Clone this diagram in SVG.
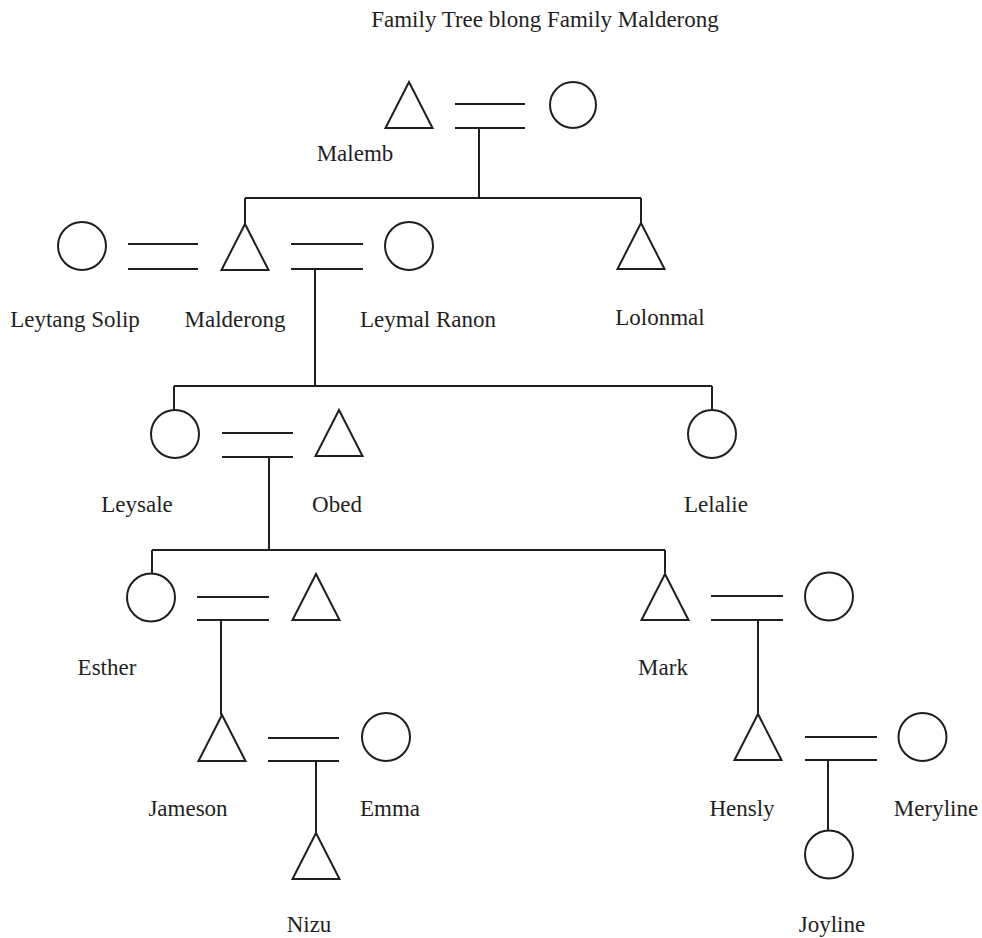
<svg xmlns="http://www.w3.org/2000/svg" xmlns:xlink="http://www.w3.org/1999/xlink" width="982" height="938" viewBox="0 0 982 938">
<style>
.s{fill:none;stroke:#1f1f1f;stroke-width:2}
.c line,.c path{fill:none;stroke:#1f1f1f;stroke-width:2}
text{font-family:"Liberation Serif","Times New Roman",serif;font-size:23px;fill:#1f1f1f;text-anchor:middle}
</style>
<defs>
<polygon id="tri" class="s" points="0,0 -23.5,46 23.5,46" stroke-linejoin="miter"/>
</defs>
<rect width="982" height="938" fill="#ffffff"/>
<text x="545" y="27">Family Tree blong Family Malderong</text>

<g id="connectors" class="c">
<path d="M455 104H525M455 128H525M479 128V198M245 198H641M245 198V224M641 198V223"/>
<path d="M128 244H198M128 269H198"/>
<path d="M291 244H363M291 269H363M315 269V386M174 386H712M174 386V410M712 386V410"/>
<path d="M222 433H293M222 457H293M269 457V550M152 550H665M152 550V574M665 550V573"/>
<path d="M197 597H269M197 620H269M221 620V715"/>
<path d="M711 596H783M711 620H783M758 620V714"/>
<path d="M268 738H339M268 761H339M316 761V833"/>
<path d="M805 737H877M805 760H877M828 760V831"/>
</g>

<g id="malemb"><use xlink:href="#tri" x="409" y="82"/><text x="355" y="161">Malemb</text></g>
<g id="malemb-wife"><circle class="s" cx="573" cy="105" r="23"/></g>
<g id="leytang-solip"><circle class="s" cx="82" cy="246" r="24"/><text x="75" y="327">Leytang Solip</text></g>
<g id="malderong"><use xlink:href="#tri" x="245" y="224"/><text x="235" y="327">Malderong</text></g>
<g id="leymal-ranon"><circle class="s" cx="409" cy="246" r="24"/><text x="428" y="327">Leymal Ranon</text></g>
<g id="lolonmal"><use xlink:href="#tri" x="641" y="223"/><text x="660" y="325">Lolonmal</text></g>
<g id="leysale"><circle class="s" cx="175" cy="434" r="24"/><text x="137" y="512">Leysale</text></g>
<g id="obed"><use xlink:href="#tri" x="339" y="410"/><text x="337" y="512">Obed</text></g>
<g id="lelalie"><circle class="s" cx="712" cy="434" r="24"/><text x="716" y="512">Lelalie</text></g>
<g id="esther"><circle class="s" cx="151" cy="597.5" r="24"/><text x="107" y="675">Esther</text></g>
<g id="esther-husband"><use xlink:href="#tri" x="316" y="574"/></g>
<g id="mark"><use xlink:href="#tri" x="665" y="574"/><text x="663" y="675">Mark</text></g>
<g id="mark-wife"><circle class="s" cx="829" cy="596.5" r="24"/></g>
<g id="jameson"><use xlink:href="#tri" x="222" y="715"/><text x="188" y="816">Jameson</text></g>
<g id="emma"><circle class="s" cx="386" cy="737" r="24"/><text x="390" y="816">Emma</text></g>
<g id="nizu"><use xlink:href="#tri" x="316" y="833"/><text x="309" y="932">Nizu</text></g>
<g id="hensly"><use xlink:href="#tri" x="758" y="714"/><text x="742" y="816">Hensly</text></g>
<g id="meryline"><circle class="s" cx="922.5" cy="737" r="24"/><text x="936" y="816">Meryline</text></g>
<g id="joyline"><circle class="s" cx="829" cy="854.5" r="24"/><text x="832" y="932">Joyline</text></g>
</svg>
